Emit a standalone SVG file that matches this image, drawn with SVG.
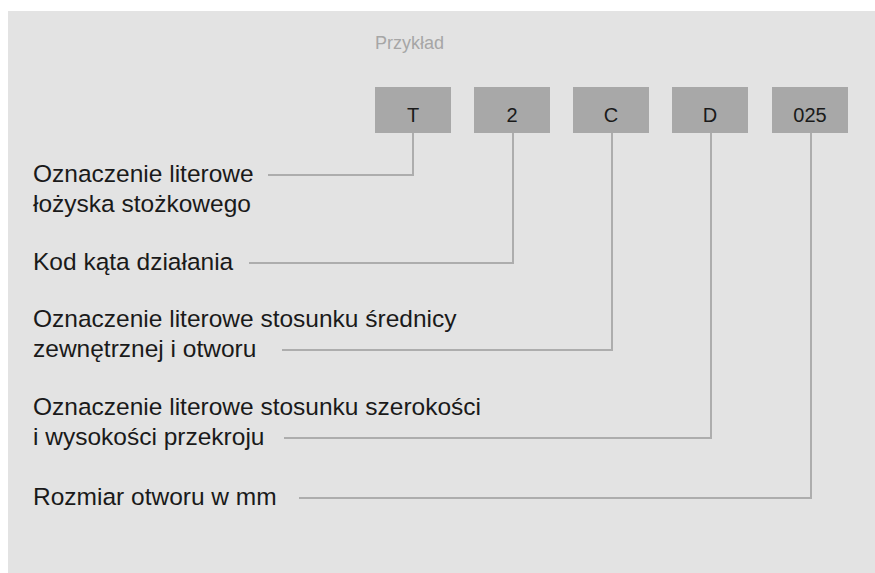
<svg xmlns="http://www.w3.org/2000/svg" width="875" height="573" viewBox="0 0 875 573">
<style>
.bg{fill:#e3e3e3}
.box{fill:#a8a8a8}
.code{font-family:"Liberation Sans",Arial,sans-serif;font-size:20px;fill:#1a1a1a;text-anchor:middle}
.lbl{font-family:"Liberation Sans",Arial,sans-serif;font-size:24.5px;fill:#1a1a1a}
.title{font-family:"Liberation Sans",Arial,sans-serif;font-size:18px;fill:#a6a6a6}
.conn{fill:none;stroke:#adadad;stroke-width:2}
</style>
<rect class="bg" x="8" y="11" width="867" height="562"/>
<text class="title" x="375" y="49">Przykład</text>
<g id="box-T"><rect class="box" x="375" y="87" width="76" height="46"/><text class="code" x="413" y="122">T</text></g>
<g id="box-2"><rect class="box" x="474" y="87" width="76" height="46"/><text class="code" x="512" y="122">2</text></g>
<g id="box-C"><rect class="box" x="573" y="87" width="76" height="46"/><text class="code" x="611" y="122">C</text></g>
<g id="box-D"><rect class="box" x="672" y="87" width="76" height="46"/><text class="code" x="710" y="122">D</text></g>
<g id="box-025"><rect class="box" x="772" y="87" width="76" height="46"/><text class="code" x="810" y="122">025</text></g>
<g id="label-T"><text class="lbl" x="33" y="182">Oznaczenie literowe</text><text class="lbl" x="33" y="212">łożyska stożkowego</text></g>
<g id="label-2"><text class="lbl" x="33" y="270">Kod kąta działania</text></g>
<g id="label-C"><text class="lbl" x="33" y="327">Oznaczenie literowe stosunku średnicy</text><text class="lbl" x="33" y="357">zewnętrznej i otworu</text></g>
<g id="label-D"><text class="lbl" x="33" y="415">Oznaczenie literowe stosunku szerokości</text><text class="lbl" x="33" y="445">i wysokości przekroju</text></g>
<g id="label-025"><text class="lbl" x="33" y="505">Rozmiar otworu w mm</text></g>
<g id="connectors">
<path class="conn" d="M268,175 H413 V133"/>
<path class="conn" d="M249,263 H513 V133"/>
<path class="conn" d="M282,350 H612 V133"/>
<path class="conn" d="M284,438 H711 V133"/>
<path class="conn" d="M299,498 H811 V133"/>
</g>
</svg>
